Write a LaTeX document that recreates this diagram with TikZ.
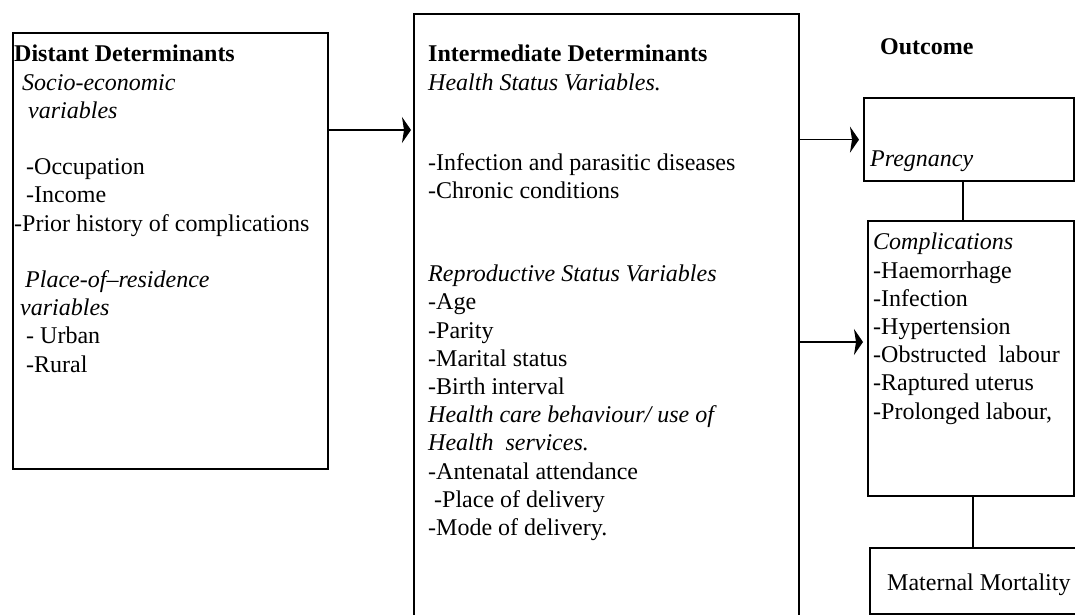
\documentclass[tikz,border=0pt]{standalone}
\usepackage{fontspec}
\setmainfont{Liberation Serif}
\usetikzlibrary{arrows.meta,positioning}

\begin{document}
\begin{tikzpicture}[x=1pt, y=-1pt,
    box/.style={draw, line width=2.3pt, inner sep=0pt, anchor=north west},
    txt/.style={align=left, inner sep=0pt, anchor=north west,
      font=\fontsize{24}{28.2}\selectfont, execute at begin node=\strut},
    link/.style={line width=1.4pt},
    >={Stealth[length=9pt,width=26pt,inset=2pt]}]
    \useasboundingbox (0,0) rectangle (1075,614);
    \clip (0,0) rectangle (1075,614);
    % boxes
    \node[box, minimum width=315, minimum height=436] (distant) at (12,32) {};
    \node[box, minimum width=385, minimum height=640] (inter) at (413,13) {};
    \node[box, minimum width=210, minimum height=83] (preg) at (863,97) {};
    \node[box, minimum width=206, minimum height=275] (comp) at (867,220) {};
    \node[box, minimum width=240, minimum height=66] (mort) at (869,547) {};
    % texts
    \node[txt] (distanttxt) at (14,45) {\textbf{Distant Determinants}\\
      \hspace*{8pt}\textit{Socio-economic}\\
      \hspace*{14pt}\textit{variables}\\[28.2pt]
      \hspace*{12pt}-Occupation\\
      \hspace*{12pt}-Income\\
      -Prior history of complications\\[28.2pt]
      \hspace*{11pt}\textit{Place-of–residence}\\
      \hspace*{6pt}\textit{variables}\\
      \hspace*{12pt}- Urban\\
      \hspace*{12pt}-Rural};
    \node[txt] (intertxt) at (428,45) {\textbf{Intermediate Determinants}\\
      \textit{Health Status Variables.}\\[52pt]
      -Infection and parasitic diseases\\
      -Chronic conditions\\[55pt]
      \textit{Reproductive Status Variables}\\
      -Age\\
      -Parity\\
      -Marital status\\
      -Birth interval\\
      \textit{Health care behaviour/ use of}\\
      \textit{Health\ \ services.}\\
      -Antenatal attendance\\
      \hspace*{6pt}-Place of delivery\\
      -Mode of delivery.};
    \node[txt] (outcome) at (880,35) {\textbf{Outcome}};
    \node[txt] (pregtxt) at (870,147) {\textit{Pregnancy}};
    \node[txt] (comptxt) at (873,233) {\textit{Complications}\\
      -Haemorrhage\\
      -Infection\\
      -Hypertension\\
      -Obstructed\ \ labour\\
      -Raptured uterus\\
      -Prolonged labour,};
    \node[txt] (morttxt) at (887,571) {Maternal Mortality};
    % connectors
    \coordinate (ya) at (0,130);
    \coordinate (yb) at (0,342);
    \draw[link,->] (distant.east |- ya) -- ([xshift=-2pt]inter.west |- ya);
    \draw[link,->] (inter.east |- preg.west) -- ([xshift=-4pt]preg.west);
    \draw[link,->] (inter.east |- yb) -- ([xshift=-4pt]comp.west |- yb);
    \draw[line width=1.8pt] ([xshift=-6pt]preg.south) -- ([xshift=-6pt]preg.south |- comp.north);
    \draw[line width=1.8pt] ([xshift=2pt]comp.south) -- ([xshift=2pt]comp.south |- mort.north);
\end{tikzpicture}
\end{document}
